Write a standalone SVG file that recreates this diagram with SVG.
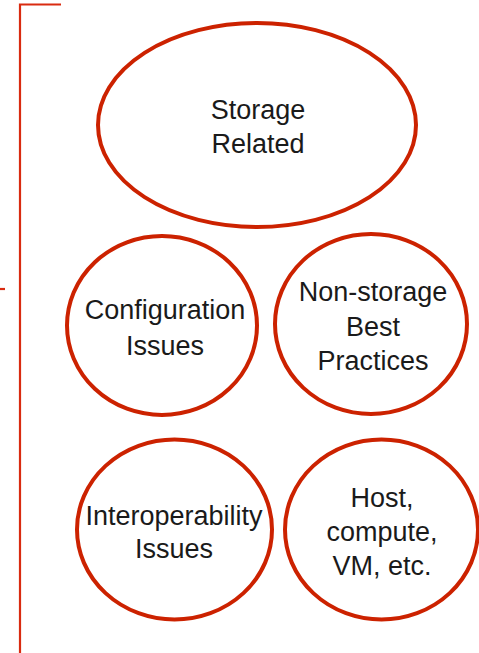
<svg xmlns="http://www.w3.org/2000/svg" width="479" height="653" viewBox="0 0 479 653">
<style>
.n{fill:#fff;stroke:#cc2200;stroke-width:4}
.t{font-family:"Liberation Sans",Arial,sans-serif;font-size:27px;fill:#1a1a1a;text-anchor:middle}
.b{fill:none;stroke:#d92b10;stroke-width:2.2}
</style>
<rect width="479" height="653" fill="#fff"/>
<g id="connectors">
<path class="b" d="M61,4.5 H20 V653"/>
<path class="b" d="M0,289 H5"/>
</g>
<g id="storage">
<ellipse class="n" cx="257" cy="125" rx="159" ry="102"/>
<text class="t" x="258" y="119">Storage</text>
<text class="t" x="258" y="153">Related</text>
</g>
<g id="config">
<ellipse class="n" cx="162" cy="325.5" rx="95" ry="89.5"/>
<text class="t" x="165" y="319">Configuration</text>
<text class="t" x="165" y="355">Issues</text>
</g>
<g id="nonstorage">
<ellipse class="n" cx="371" cy="324" rx="96" ry="90"/>
<text class="t" x="373" y="301">Non-storage</text>
<text class="t" x="373" y="336">Best</text>
<text class="t" x="373" y="370">Practices</text>
</g>
<g id="interop">
<ellipse class="n" cx="174.5" cy="529.5" rx="97.5" ry="90"/>
<text class="t" x="174" y="525">Interoperability</text>
<text class="t" x="174" y="558">Issues</text>
</g>
<g id="host">
<ellipse class="n" cx="381.5" cy="529.5" rx="96.5" ry="90"/>
<text class="t" x="382" y="507">Host,</text>
<text class="t" x="382" y="541">compute,</text>
<text class="t" x="382" y="575">VM, etc.</text>
</g>
</svg>
